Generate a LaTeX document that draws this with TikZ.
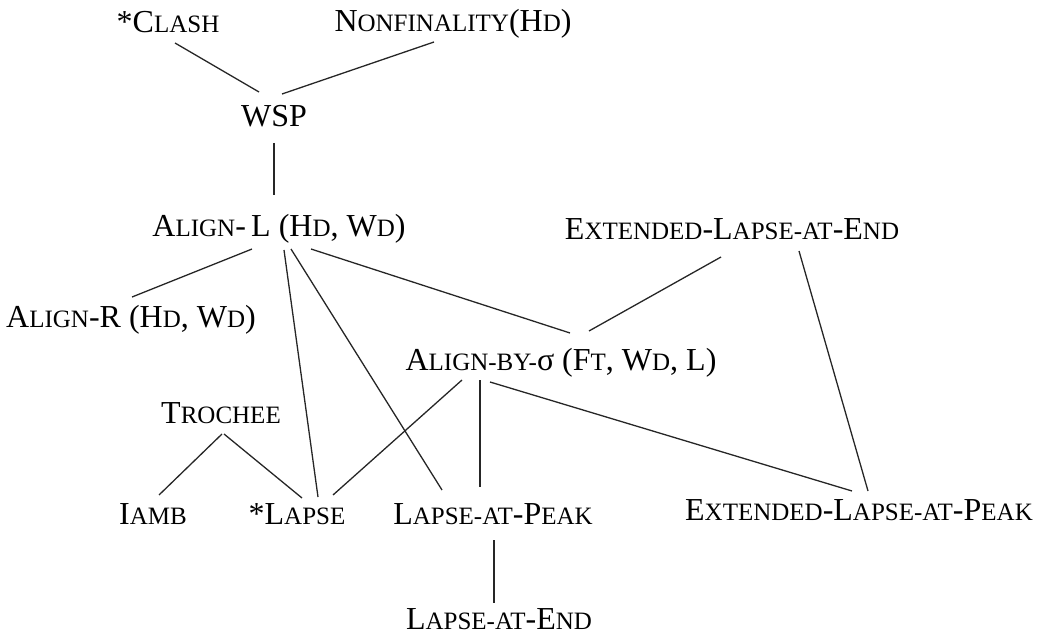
\documentclass[tikz,border=0pt]{standalone}
\usepackage{fontspec}
\setmainfont{Liberation Serif}
% faked small capitals: reduced-size capitals
\newcommand\sm[1]{{\fontsize{25}{25}\selectfont #1}}
\begin{document}
\begin{tikzpicture}[x=1pt,y=1pt,
  con/.style={anchor=base,inner sep=0pt,font=\fontsize{32}{34}\selectfont},
  link/.style={line width=1.3pt,black!85}]
\useasboundingbox (0,0) rectangle (1040,635);

% constraints
\node[con] (clash)  at (168,602) {*C\sm{LASH}};
\node[con] (nonfin) at (453,603) {N\sm{ONFINALITY}(H\sm{D})};
\node[con] (wsp)    at (274,508) {WSP};
\node[con] (al)     at (279,398) {A\sm{LIGN}-\,L (H\sm{D}, W\sm{D})};
\node[con] (ee)     at (732,395) {E\sm{XTENDED}-L\sm{APSE-AT}-E\sm{ND}};
\node[con] (ar)     at (131,308) {A\sm{LIGN}-R (H\sm{D}, W\sm{D})};
\node[con] (ab)     at (561,265) {A\sm{LIGN-BY-}σ (F\sm{T}, W\sm{D}, L)};
\node[con] (tr)     at (221,212) {T\sm{ROCHEE}};
\node[con] (iamb)   at (153,111) {I\sm{AMB}};
\node[con] (lapse)  at (297,111) {*L\sm{APSE}};
\node[con] (lap)    at (493,111) {L\sm{APSE-AT}-P\sm{EAK}};
\node[con] (ep)     at (859,115) {E\sm{XTENDED}-L\sm{APSE-AT}-P\sm{EAK}};
\node[con] (lae)    at (499,6)   {L\sm{APSE-AT}-E\sm{ND}};

% ranking lines
\draw[link] ([shift={(7,-10)}]clash.base)    -- ([shift={(-15,35)}]wsp.base);
\draw[link] ([shift={(-19,-10)}]nonfin.base) -- ([shift={(8,33)}]wsp.base);
\draw[link] ([shift={(0,-16)}]wsp.base)      -- ([shift={(-5,42)}]al.base);
\draw[link] ([shift={(-27,-12)}]al.base)     -- ([shift={(1,30)}]ar.base);
\draw[link] ([shift={(5,-13)}]al.base)       -- ([shift={(21,27)}]lapse.base);
\draw[link] ([shift={(12,-12)}]al.base)      -- ([shift={(-51,34)}]lap.base);
\draw[link] ([shift={(32,-12)}]al.base)      -- ([shift={(9,37)}]ab.base);
\draw[link] ([shift={(-11,-17)}]ee.base)     -- ([shift={(28,39)}]ab.base);
\draw[link] ([shift={(67,-11)}]ee.base)      -- ([shift={(9,29)}]ep.base);
\draw[link] ([shift={(-99,-10)}]ab.base)     -- ([shift={(36,29)}]lapse.base);
\draw[link] ([shift={(-81,-10)}]ab.base)     -- ([shift={(-13,37)}]lap.base);
\draw[link] ([shift={(-71,-12)}]ab.base)     -- ([shift={(-7,29)}]ep.base);
\draw[link] ([shift={(1,-11)}]tr.base)       -- ([shift={(6,29)}]iamb.base);
\draw[link] ([shift={(3,-11)}]tr.base)       -- ([shift={(5,26)}]lapse.base);
\draw[link] ([shift={(1,-16)}]lap.base)      -- ([shift={(-5,26)}]lae.base);
\end{tikzpicture}
\end{document}
